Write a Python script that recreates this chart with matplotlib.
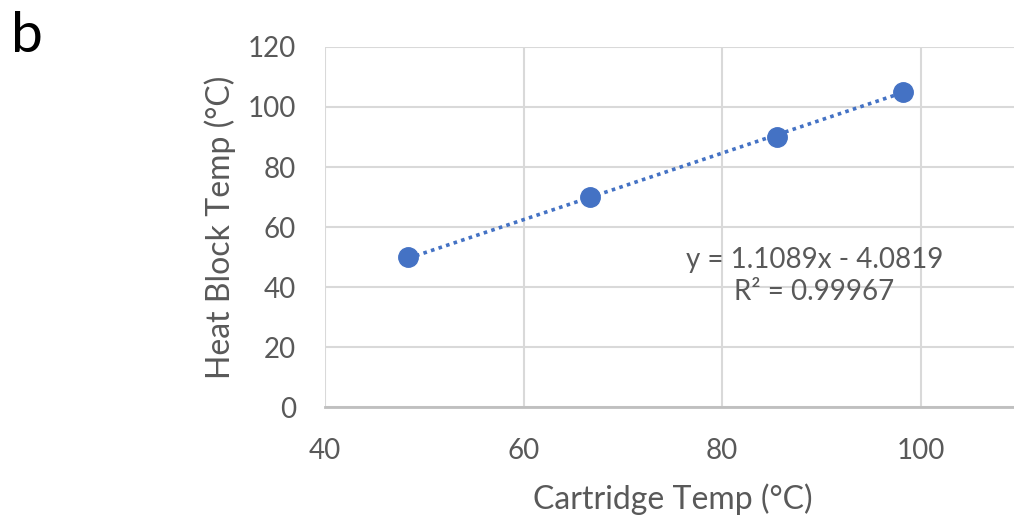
import numpy as np
import matplotlib
matplotlib.use('Agg')
import matplotlib.pyplot as plt

plt.rcParams['font.family'] = ['Lato', 'DejaVu Sans']

cartridge_temp = [48.4, 66.7, 85.5, 98.2]
block_temp = [50, 70, 90, 105]
slope, intercept = 1.1089, -4.0819
r2 = 0.99967

grey = '#595959'
blue = '#4472C4'

fig = plt.figure(figsize=(10.14, 5.18), dpi=100)
ax = fig.add_axes([325 / 1014, 111 / 518, 695 / 1014, 360 / 518])

# linear trendline between first and last point
xt = np.array([cartridge_temp[0], cartridge_temp[-1]])
ax.plot(xt, slope * xt + intercept, linestyle=(0, (1, 1.2)), color=blue, lw=2.6, zorder=2)
ax.plot(cartridge_temp, block_temp, 'o', color=blue, markersize=14, zorder=3)

ax.set_xlim(40, 110)
ax.set_ylim(0, 120)
ax.set_xticks([40, 60, 80, 100])
ax.set_yticks(range(0, 121, 20))
ax.grid(True, color='#d9d9d9', lw=1.5)
ax.set_axisbelow(True)
for s in ['top', 'right', 'left']:
    ax.spines[s].set_visible(False)
ax.spines['bottom'].set_color('#bfbfbf')
ax.spines['bottom'].set_linewidth(2)
ax.tick_params(length=0, labelsize=20, labelcolor=grey)
ax.tick_params(axis='x', pad=22)
ax.tick_params(axis='y', pad=21)

ax.set_xlabel('Cartridge Temp (°C)', fontsize=23, color=grey, labelpad=14)
ax.set_ylabel('Heat Block Temp (°C)', fontsize=23, color=grey, labelpad=8)

ax.text(89.3, 43.7, 'y = 1.1089x - 4.0819\nR² = 0.99967', fontsize=20, color=grey,
        ha='center', va='center', linespacing=1.25)

fig.text(11 / 1014, 1 - 36 / 518, 'b', fontsize=41, color='black', va='center', ha='left')

plt.savefig('out.png', dpi=100)
